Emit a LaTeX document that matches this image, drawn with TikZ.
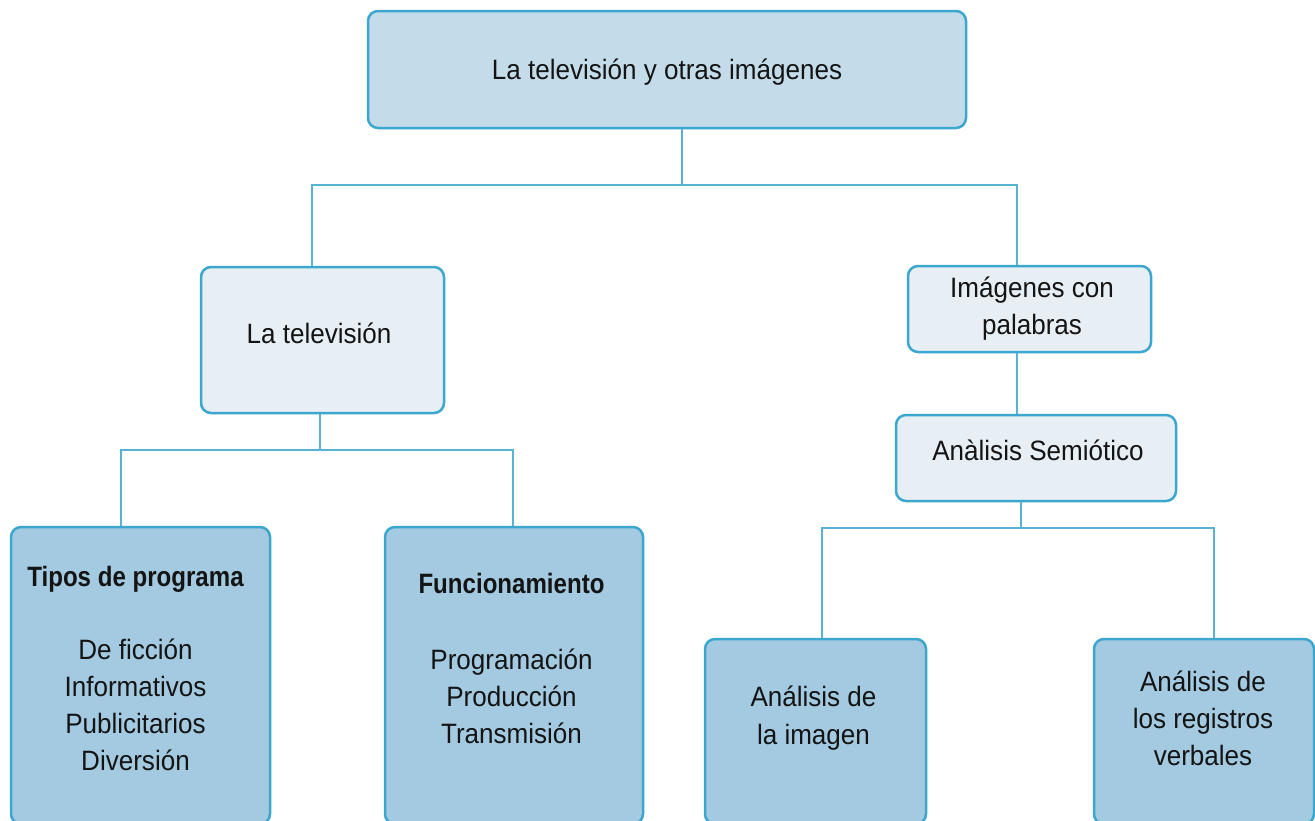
\documentclass[tikz,border=0pt]{standalone}
\usepackage{fontspec}
\setmainfont[FakeStretch=0.93,BoldFeatures={FakeStretch=0.86}]{Liberation Sans}
\definecolor{bordc}{RGB}{59,167,206}
\definecolor{connc}{RGB}{88,178,212}
\definecolor{topf}{RGB}{196,220,233}
\definecolor{midf}{RGB}{231,239,245}
\definecolor{botf}{RGB}{163,202,224}
\definecolor{txtc}{RGB}{20,20,20}
\begin{document}
\begin{tikzpicture}[x=1pt,y=-1pt,
  box/.style={draw=bordc,line width=2.5pt,rounded corners=10pt,inner sep=0pt},
  topbox/.style={box,fill=topf},
  midbox/.style={box,fill=midf},
  botbox/.style={box,fill=botf},
  conn/.style={draw=connc,line width=2pt},
  txt/.style={anchor=base,inner sep=0pt,text=txtc,font=\fontsize{28}{37}\selectfont},
  btxt/.style={txt,font=\fontsize{28}{37}\selectfont\bfseries}]
\useasboundingbox (0,0) rectangle (1315,820);
\clip (0,0) rectangle (1315,820);
\fill[white] (0,0) rectangle (1315,820);
% boxes
\node[topbox,minimum width=598pt,minimum height=117pt] (root) at (667,69.5) {};
\node[midbox,minimum width=243pt,minimum height=146pt] (tv) at (322.5,340) {};
\node[midbox,minimum width=243pt,minimum height=86pt] (img) at (1029.5,309) {};
\node[midbox,minimum width=280pt,minimum height=86pt] (sem) at (1036,458) {};
\node[botbox,minimum width=259pt,minimum height=297pt] (tipos) at (140.5,675.5) {};
\node[botbox,minimum width=258pt,minimum height=297pt] (func) at (514,675.5) {};
\node[botbox,minimum width=221pt,minimum height=185pt] (aimg) at (815.5,731.5) {};
\node[botbox,minimum width=220pt,minimum height=185pt] (areg) at (1204,731.5) {};
% junctions
\coordinate (b1) at (682,185);
\coordinate (b2) at (320,450);
\coordinate (b3) at (1021,528);
% connectors
\draw[conn] ([xshift=15pt]root.south) -- (b1);
\draw[conn] ([xshift=-10.5pt]tv.north) |- (b1) -| ([xshift=-12.5pt]img.north);
\draw[conn] ([xshift=-12.5pt]img.south) -- ([xshift=-19pt]sem.north);
\draw[conn] ([xshift=-2.5pt]tv.south) -- (b2);
\draw[conn] ([xshift=-19.5pt]tipos.north) |- (b2) -| ([xshift=-1pt]func.north);
\draw[conn] ([xshift=-15pt]sem.south) -- (b3);
\draw[conn] ([xshift=6.5pt]aimg.north) |- (b3) -| ([xshift=10pt]areg.north);
% texts
\node[txt] (rootT) at (667,79) {La televisión y otras imágenes};
\node[txt] (tvT) at (319,343) {La televisión};
\node[txt] (imgT1) at (1032,297) {Imágenes con};
\node[txt] (imgT2) at (1032,334) {palabras};
\node[txt] (semT) at (1038,460) {Anàlisis Semiótico};
\node[btxt] (tiposH) at (135.5,586) {Tipos de programa};
\node[txt] (tipos1) at (135.5,659) {De ficción};
\node[txt] (tipos2) at (135.5,696) {Informativos};
\node[txt] (tipos3) at (135.5,733) {Publicitarios};
\node[txt] (tipos4) at (135.5,770) {Diversión};
\node[btxt] (funcH) at (511.5,593) {Funcionamiento};
\node[txt] (func1) at (511.5,669) {Programación};
\node[txt] (func2) at (511.5,706) {Producción};
\node[txt] (func3) at (511.5,743) {Transmisión};
\node[txt] (aimg1) at (813.5,706) {Análisis de};
\node[txt] (aimg2) at (813.5,744) {la imagen};
\node[txt] (areg1) at (1203,691) {Análisis de};
\node[txt] (areg2) at (1203,728) {los registros};
\node[txt] (areg3) at (1203,765) {verbales};
\end{tikzpicture}
\end{document}
